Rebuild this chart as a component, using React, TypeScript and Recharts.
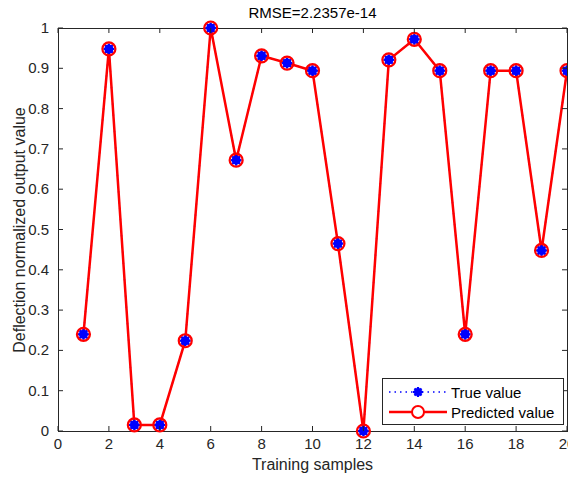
import { LineChart, Line, XAxis, YAxis } from 'recharts';

const samples = [1, 2, 3, 4, 5, 6, 7, 8, 9, 10, 11, 12, 13, 14, 15, 16, 17, 18, 19, 20];
const trueValues = [0.24, 0.948, 0.015, 0.015, 0.224, 1.0, 0.672, 0.931, 0.913, 0.894, 0.465, 0.0, 0.921, 0.972, 0.894, 0.24, 0.894, 0.894, 0.448, 0.894];
const predictedValues = [0.24, 0.948, 0.015, 0.015, 0.224, 1.0, 0.672, 0.931, 0.913, 0.894, 0.465, 0.0, 0.921, 0.972, 0.894, 0.24, 0.894, 0.894, 0.448, 0.894];
const xTicks = [0, 2, 4, 6, 8, 10, 12, 14, 16, 18, 20];
const yTicks = [0, 0.1, 0.2, 0.3, 0.4, 0.5, 0.6, 0.7, 0.8, 0.9, 1];

const data = samples.map((s, i) => ({ x: s, truth: trueValues[i], pred: predictedValues[i] }));

const FONT = 'Arial, "Liberation Sans", Helvetica, sans-serif';
const AXIS = '#262626';

// plot box (MATLAB-style axes)
const LEFT = 58;
const RIGHT = 567;
const TOP = 28;
const BOTTOM = 431;
const TICK = 5;

const XTick = ({ payload }: any) => {
  const x = payload.coordinate;
  return (
    <g>
      <line x1={x} y1={BOTTOM} x2={x} y2={BOTTOM - TICK} stroke={AXIS} />
      <line x1={x} y1={TOP} x2={x} y2={TOP + TICK} stroke={AXIS} />
      <text x={x} y={BOTTOM + 18} textAnchor="middle" fill={AXIS} fontSize={15} fontFamily={FONT}>
        {payload.value}
      </text>
    </g>
  );
};

const YTick = ({ payload }: any) => {
  const y = payload.coordinate;
  return (
    <g>
      <line x1={LEFT} y1={y} x2={LEFT + TICK} y2={y} stroke={AXIS} />
      <line x1={RIGHT} y1={y} x2={RIGHT - TICK} y2={y} stroke={AXIS} />
      <text x={49} y={y + 5} textAnchor="end" fill={AXIS} fontSize={15} fontFamily={FONT}>
        {String(Math.round(payload.value * 10) / 10)}
      </text>
    </g>
  );
};

// Recharts passes its own `r` to custom dots, so size comes from `size`
const Asterisk = ({ cx, cy, size = 5.5 }: { cx?: number; cy?: number; size?: number }) => {
  if (cx == null || cy == null) return null;
  const r = size;
  const d = r * 0.71;
  return (
    <g stroke="#0000ff" strokeWidth={2.2}>
      <circle cx={cx} cy={cy} r={r - 1} fill="#0000ff" stroke="none" />
      <line x1={cx - r} y1={cy} x2={cx + r} y2={cy} />
      <line x1={cx} y1={cy - r} x2={cx} y2={cy + r} />
      <line x1={cx - d} y1={cy - d} x2={cx + d} y2={cy + d} />
      <line x1={cx - d} y1={cy + d} x2={cx + d} y2={cy - d} />
    </g>
  );
};

const RedCircle = ({ cx, cy }: { cx?: number; cy?: number }) => {
  if (cx == null || cy == null) return null;
  return <circle cx={cx} cy={cy} r={6.5} fill="none" stroke="#ff0000" strokeWidth={2.2} />;
};

const LegendBox = () => (
  <div
    style={{
      position: 'absolute', left: 382, top: 378,
      width: 182, height: 47, boxSizing: 'border-box', border: '1px solid #262626', background: '#fff',
      fontFamily: FONT, fontSize: 15, color: '#000', padding: '3px 0 0 4px',
    }}
  >
    <div style={{ display: 'flex', alignItems: 'center', height: 20 }}>
      <svg width={64} height={20}>
        <line x1={2} y1={10} x2={60} y2={10} stroke="#0000ff" strokeWidth={1.5} strokeDasharray="1.5 4" />
        <Asterisk cx={31} cy={10} size={5} />
      </svg>
      <span>True value</span>
    </div>
    <div style={{ display: 'flex', alignItems: 'center', height: 20 }}>
      <svg width={64} height={20}>
        <line x1={2} y1={10} x2={60} y2={10} stroke="#ff0000" strokeWidth={2.5} />
        <circle cx={31} cy={10} r={6} fill="#fff" stroke="#ff0000" strokeWidth={2} />
      </svg>
      <span>Predicted value</span>
    </div>
  </div>
);

const App = () => (
  <div style={{ position: 'absolute', left: 0, top: 0, width: 568, height: 479, background: '#fff' }}>
    <div style={{ position: 'absolute', left: 0, right: 0, top: 4, textAlign: 'center', paddingLeft: 57, fontFamily: FONT, fontSize: 15, color: '#000' }}>
      RMSE=2.2357e-14
    </div>
    <div style={{ position: 'absolute', left: 0, right: 0, top: 456, textAlign: 'center', paddingLeft: 57, fontFamily: FONT, fontSize: 16, color: '#262626' }}>
      Training samples
    </div>
    <div
      style={{
        position: 'absolute', left: 20, top: 230, transform: 'translate(-50%, -50%) rotate(-90deg)',
        whiteSpace: 'nowrap', fontFamily: FONT, fontSize: 16, color: '#262626',
      }}
    >
      Deflection normalized output value
    </div>
    <div
      style={{
        position: 'absolute', left: LEFT, top: TOP, width: RIGHT - LEFT + 1, height: BOTTOM - TOP + 1,
        boxSizing: 'border-box', border: `1px solid ${AXIS}`,
      }}
    />
    <div style={{ position: 'absolute', left: 0, top: 0 }}>
      <LineChart width={568} height={479} data={data} margin={{ top: TOP, right: 568 - RIGHT, bottom: 479 - BOTTOM - 30, left: LEFT - 40 }}>
        <XAxis
          dataKey="x" type="number" domain={[0, 20]} ticks={xTicks} interval={0}
          height={30} axisLine={false} tickLine={false} tick={<XTick />} allowDataOverflow
        />
        <YAxis
          type="number" domain={[0, 1]} ticks={yTicks} interval={0} width={40}
          axisLine={false} tickLine={false} tick={<YTick />}
        />
        <Line
          dataKey="truth" stroke="#0000ff" strokeWidth={1.5} strokeDasharray="1.5 4"
          dot={<Asterisk />} activeDot={false} isAnimationActive={false}
        />
        <Line
          dataKey="pred" stroke="#ff0000" strokeWidth={2.5}
          dot={<RedCircle />} activeDot={false} isAnimationActive={false}
        />
      </LineChart>
    </div>
    <LegendBox />
  </div>
);

export default App;
